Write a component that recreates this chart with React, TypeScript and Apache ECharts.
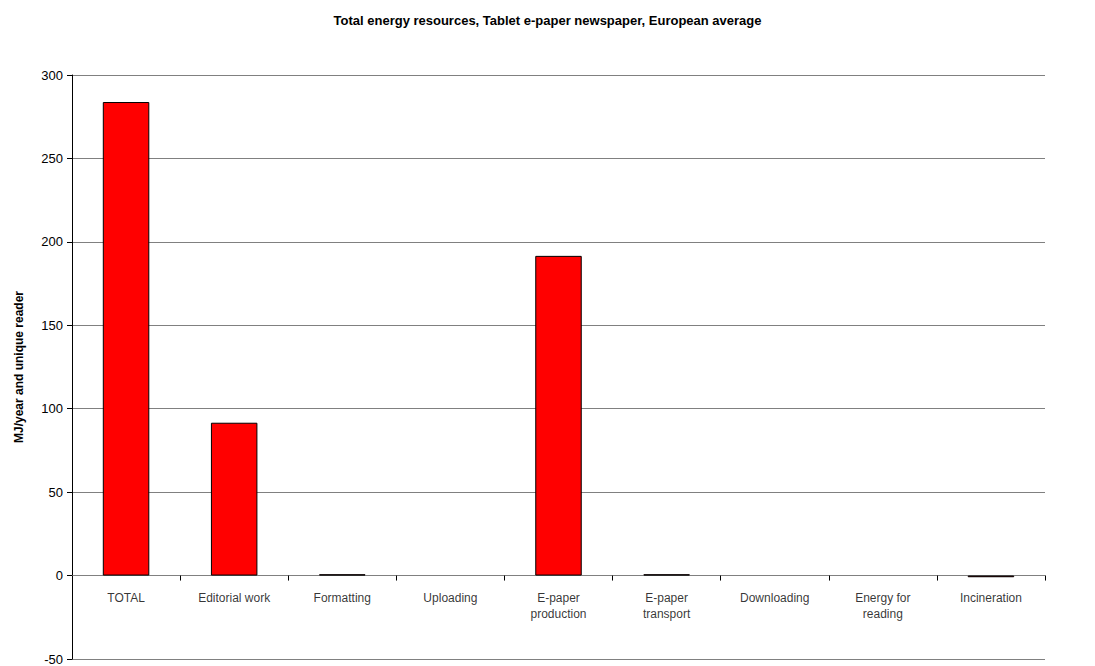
import React, { useEffect, useRef } from "react";
import * as echarts from "echarts";

const categories = [
  "TOTAL",
  "Editorial work",
  "Formatting",
  "Uploading",
  "E-paper\nproduction",
  "E-paper\ntransport",
  "Downloading",
  "Energy for\nreading",
  "Incineration",
];
const values = [283.8, 91.6, 0.8, 0, 191.6, 0.8, 0, 0, -1.0];

export default function App() {
  const ref = useRef<HTMLDivElement>(null);
  useEffect(() => {
    const chart = echarts.init(ref.current!, null, { renderer: "svg" });
    const font = "Liberation Sans, Arial";
    chart.setOption({
      animation: false,
      backgroundColor: "#ffffff",
      title: {
        text: "Total energy resources, Tablet e-paper newspaper, European average",
        left: "center",
        top: 9,
        textStyle: { fontFamily: font, fontSize: 13, fontWeight: "bold", color: "#000" },
      },
      grid: { left: 72, right: 50, top: 75, bottom: 7, containLabel: false, outerBoundsMode: "none" },
      xAxis: {
        type: "category",
        data: categories,
        axisLine: { onZero: true, lineStyle: { color: "#808080", width: 1 } },
        axisTick: { show: true, length: 5, lineStyle: { color: "#000" } },
        axisLabel: { show: false },
      },
      yAxis: {
        type: "value",
        min: -50,
        max: 300,
        interval: 50,
        name: "MJ/year and unique reader",
        nameLocation: "middle",
        nameGap: 47,
        nameRotate: 90,
        nameTextStyle: { fontFamily: font, fontSize: 12, fontWeight: "bold", color: "#000" },
        axisLine: { show: true, lineStyle: { color: "#000" } },
        axisTick: { show: true, length: 5, lineStyle: { color: "#000" } },
        axisLabel: { fontFamily: font, fontSize: 13, color: "#000", margin: 9 },
        splitLine: { show: true, lineStyle: { color: "#808080", width: 1 } },
      },
      series: [
        {
          type: "bar",
          data: values.map((v) => (v === 0 ? { value: 0, itemStyle: { borderWidth: 0 } } : v)),
          barWidth: "43%",
          itemStyle: { color: "#ff0000", borderColor: "#000", borderWidth: 1 },
        },
        {
          type: "scatter",
          data: categories.map((c, i) => [i, 0]),
          symbolSize: 0,
          silent: true,
          label: {
            show: true,
            position: "bottom",
            distance: 14,
            formatter: (p: any) => categories[p.dataIndex],
            fontFamily: font,
            fontSize: 12,
            color: "#000",
            lineHeight: 16,
            align: "center",
          },
        },
      ],
    });
    return () => chart.dispose();
  }, []);
  return <div ref={ref} style={{ position: "absolute", left: 0, top: 0, width: 1095, height: 666 }} />;
}
